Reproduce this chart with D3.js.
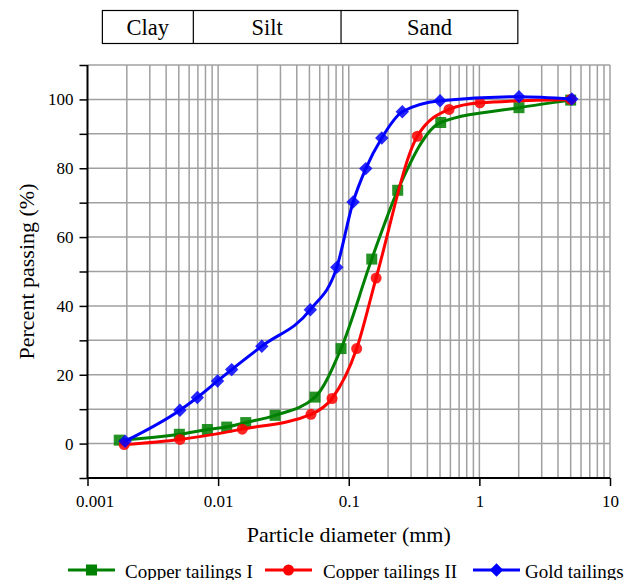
<!DOCTYPE html>
<html>
<head>
<meta charset="utf-8">
<script src="https://cdn.jsdelivr.net/npm/d3@7"></script>
<style>
  body { margin: 0; background: #fff; }
  svg text { font-family: "Liberation Serif", "Times New Roman", serif !important; fill: #000; }
</style>
</head>
<body>
<div id="chart"></div>
<script>
// particle size classes (boundaries in mm)
const classNames = ["Clay", "Silt", "Sand"];
const classBounds = [0.0013, 0.00646, 0.0873, 1.97];

// sieve data: diameter (mm) / percent passing
const cuIDiam = [0.00175, 0.00505, 0.00827, 0.01164, 0.01627, 0.0273, 0.0552, 0.0873, 0.150, 0.237, 0.506, 2.01, 5.0];
const cuIPass = [1.0, 2.7, 4.1, 4.8, 6.1, 8.2, 13.5, 27.6, 53.6, 73.6, 93.3, 97.6, 99.8];

const cuIIDiam = [0.00191, 0.0051, 0.0153, 0.0514, 0.0745, 0.115, 0.162, 0.335, 0.586, 1.01, 5.0];
const cuIIPass = [-0.3, 1.2, 4.2, 8.5, 13.1, 27.6, 48.1, 89.3, 97.1, 99.0, 100.0];

const goldDiam = [0.00194, 0.0051, 0.00693, 0.0099, 0.0127, 0.0216, 0.0508, 0.081, 0.108, 0.135, 0.179, 0.257, 0.5, 2.01, 5.1];
const goldPass = [0.7, 9.7, 13.4, 18.2, 21.5, 28.3, 38.9, 51.2, 70.2, 79.9, 88.8, 96.4, 99.6, 100.8, 100.1];

const xTickValues = [0.001, 0.01, 0.1, 1, 10];
const yTickLabels = [0, 20, 40, 60, 80, 100];

// diamond = square turned by 45 degrees
const diamond = {
  draw(ctx, size) {
    const r = Math.sqrt(size / 2);
    ctx.moveTo(0, -r); ctx.lineTo(r, 0); ctx.lineTo(0, r); ctx.lineTo(-r, 0); ctx.closePath();
  }
};

const series = [
  { name: "Copper tailings I", color: "#008000", symbol: d3.symbolSquare, size: 121, diam: cuIDiam, pass: cuIPass },
  { name: "Copper tailings II", color: "#ff0000", symbol: d3.symbolCircle, size: 95, diam: cuIIDiam, pass: cuIIPass },
  { name: "Gold tailings", color: "#0000ff", symbol: diamond, size: 90, diam: goldDiam, pass: goldPass }
];

const width = 627, height = 580;
const margin = { top: 65, right: 17, bottom: 102, left: 87.5 };

const svg = d3.select("#chart").append("svg")
  .attr("width", width).attr("height", height);

const x = d3.scaleLog().domain([0.001, 10]).range([margin.left, width - margin.right]);
const y = d3.scaleLinear().domain([-10, 110]).range([height - margin.bottom, margin.top]);

// --- grid ---
const minorX = [];
for (let e = -3; e < 1; e++) {
  for (let m = 1; m <= 9; m++) minorX.push(m * Math.pow(10, e));
}
minorX.push(10);

const grid = svg.append("g").attr("stroke", "#a0a0a0").attr("stroke-width", 1.5);
grid.selectAll("line.v").data(minorX.slice(1)).join("line")
  .attr("x1", d => x(d)).attr("x2", d => x(d))
  .attr("y1", y(110)).attr("y2", y(-10));
grid.selectAll("line.h").data(d3.range(0, 111, 10)).join("line")
  .attr("x1", x(0.001)).attr("x2", x(10))
  .attr("y1", d => y(d)).attr("y2", d => y(d));

// --- axes ---
const xAxis = svg.append("g")
  .attr("transform", `translate(0,${y(-10)})`)
  .call(d3.axisBottom(x).tickValues(xTickValues).tickFormat(d3.format("~g")).tickSize(8).tickPadding(9));
xAxis.select(".domain").attr("stroke-width", 2).attr("d", `M${x(0.001)},0H${x(10)}`);
// first label sits a little to the right of its tick in the original
xAxis.selectAll(".tick text").filter(d => d === 0.001).attr("dx", 7);

const yAxis = svg.append("g")
  .attr("transform", `translate(${x(0.001)},0)`)
  .call(d3.axisLeft(y).tickValues(d3.range(-10, 111, 10)).tickFormat(d => yTickLabels.includes(d) ? d : "").tickSize(8).tickPadding(6));
yAxis.select(".domain").attr("stroke-width", 2).attr("d", `M0,${y(110)}V${y(-10)}`);

svg.selectAll(".tick line").attr("stroke-width", 1.5);
svg.selectAll(".tick text").attr("font-size", 17);

// axis titles
svg.append("text")
  .attr("x", (x(0.001) + x(10)) / 2).attr("y", 542)
  .attr("text-anchor", "middle").attr("font-size", 22)
  .text("Particle diameter (mm)");
svg.append("text")
  .attr("transform", `translate(34,${(y(-10) + y(110)) / 2}) rotate(-90)`)
  .attr("text-anchor", "middle").attr("font-size", 22)
  .text("Percent passing (%)");

// --- soil class header ---
const header = svg.append("g");
header.append("rect")
  .attr("x", x(classBounds[0])).attr("y", 10.5)
  .attr("width", x(classBounds[3]) - x(classBounds[0])).attr("height", 33)
  .attr("fill", "none").attr("stroke", "#000").attr("stroke-width", 1.2);
header.selectAll("line").data(classBounds.slice(1, 3)).join("line")
  .attr("x1", d => x(d)).attr("x2", d => x(d))
  .attr("y1", 10.5).attr("y2", 43.5)
  .attr("stroke", "#000").attr("stroke-width", 1.2);
header.selectAll("text").data(classNames).join("text")
  .attr("x", (d, i) => (x(classBounds[i]) + x(classBounds[i + 1])) / 2)
  .attr("y", 35)
  .attr("text-anchor", "middle").attr("font-size", 22.5)
  .text(d => d);

// --- curves ---
const line = d3.line()
  .x(d => x(d[0])).y(d => y(d[1]))
  .curve(d3.curveMonotoneX);

series.forEach(s => {
  const pts = s.diam.map((d, i) => [d, s.pass[i]]);
  const g = svg.append("g");
  g.append("path").datum(pts)
    .attr("d", line)
    .attr("fill", "none").attr("stroke", s.color).attr("stroke-width", 3);
  g.selectAll("path.m").data(pts).join("path")
    .attr("class", "m")
    .attr("transform", d => `translate(${x(d[0])},${y(d[1])})`)
    .attr("d", d3.symbol().type(s.symbol).size(s.size))
    .attr("fill", s.color).attr("fill-opacity", 0.85);
});

// --- legend ---
const legendLineX = [68, 265, 473];
const legendTextX = [125, 323, 525];
const legend = svg.append("g").attr("transform", "translate(0,570)");
series.forEach((s, i) => {
  const g = legend.append("g");
  g.append("line").attr("x1", legendLineX[i]).attr("x2", legendLineX[i] + 47)
    .attr("stroke", s.color).attr("stroke-width", 3);
  g.append("path").attr("transform", `translate(${legendLineX[i] + 23.5},0)`)
    .attr("d", d3.symbol().type(s.symbol).size(s.size)).attr("fill", s.color);
  g.append("text").attr("x", legendTextX[i]).attr("y", 7.5).attr("font-size", 19).text(s.name);
});
</script>
</body>
</html>
